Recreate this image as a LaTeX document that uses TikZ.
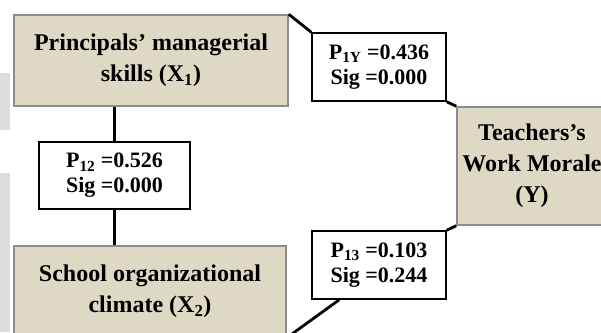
\documentclass[tikz,border=0pt]{standalone}
\usepackage{fontspec}
\setmainfont{Liberation Serif}
\usepackage{xcolor}
\usepackage{tikz}
\usetikzlibrary{positioning}
\definecolor{varfill}{HTML}{DDD9C4}
\definecolor{vardraw}{HTML}{8C8C8C}
\definecolor{pagegray}{HTML}{DCDCDC}
\tikzset{
  varbox/.style={draw=vardraw, line width=1.5pt, fill=varfill, align=center, inner sep=0pt, font=\fontsize{24}{31}\selectfont\bfseries},
  coefbox/.style={draw=black, line width=1.6pt, fill=white, align=center, inner sep=0pt, minimum width=134pt, minimum height=68pt, font=\fontsize{22}{25}\selectfont\bfseries},
  pline/.style={line width=2.8pt, black}
}
\begin{document}
\begin{tikzpicture}[x=1pt,y=-1pt]
\useasboundingbox (0,0) rectangle (601,332);
% faint page strips on the left
\fill[pagegray] (0,73) rectangle (10,130);
\fill[pagegray] (0,173) rectangle (10,332);
\node[varbox, minimum width=274pt, minimum height=91pt] (x1) at (151,60.5) {Principals’ managerial\\skills (X\textsubscript{1})};
\node[varbox, minimum width=272pt, minimum height=91pt] (x2) at (150,291.5) {School organizational\\climate (X\textsubscript{2})};
\node[varbox, minimum width=150pt, minimum height=118pt] (y) at (532,166) {Teachers’s\\Work Morale\\(Y)};
\node[coefbox, minimum width=151pt, minimum height=67pt] (p12) at (114.5,175.5) {P\textsubscript{12} =0.526\\Sig =0.000};
\node[coefbox] (p1y) at (379,67) {P\textsubscript{1Y} =0.436\\Sig =0.000};
\node[coefbox] (p13) at (379,265) {P\textsubscript{13} =0.103\\Sig =0.244};
\draw[pline] (x1.north east) -- (p1y.north west);
\draw[pline] (p1y.south east) -- (y.north west);
\draw[pline] (y.south west) -- (p13.north east);
\draw[pline] ([xshift=28pt]p13.south west) -- (x2.south east);
\draw[pline] (p12.north) -- (p12.north |- x1.south);
\draw[pline] (p12.south) -- (p12.south |- x2.north);
\end{tikzpicture}
\end{document}
